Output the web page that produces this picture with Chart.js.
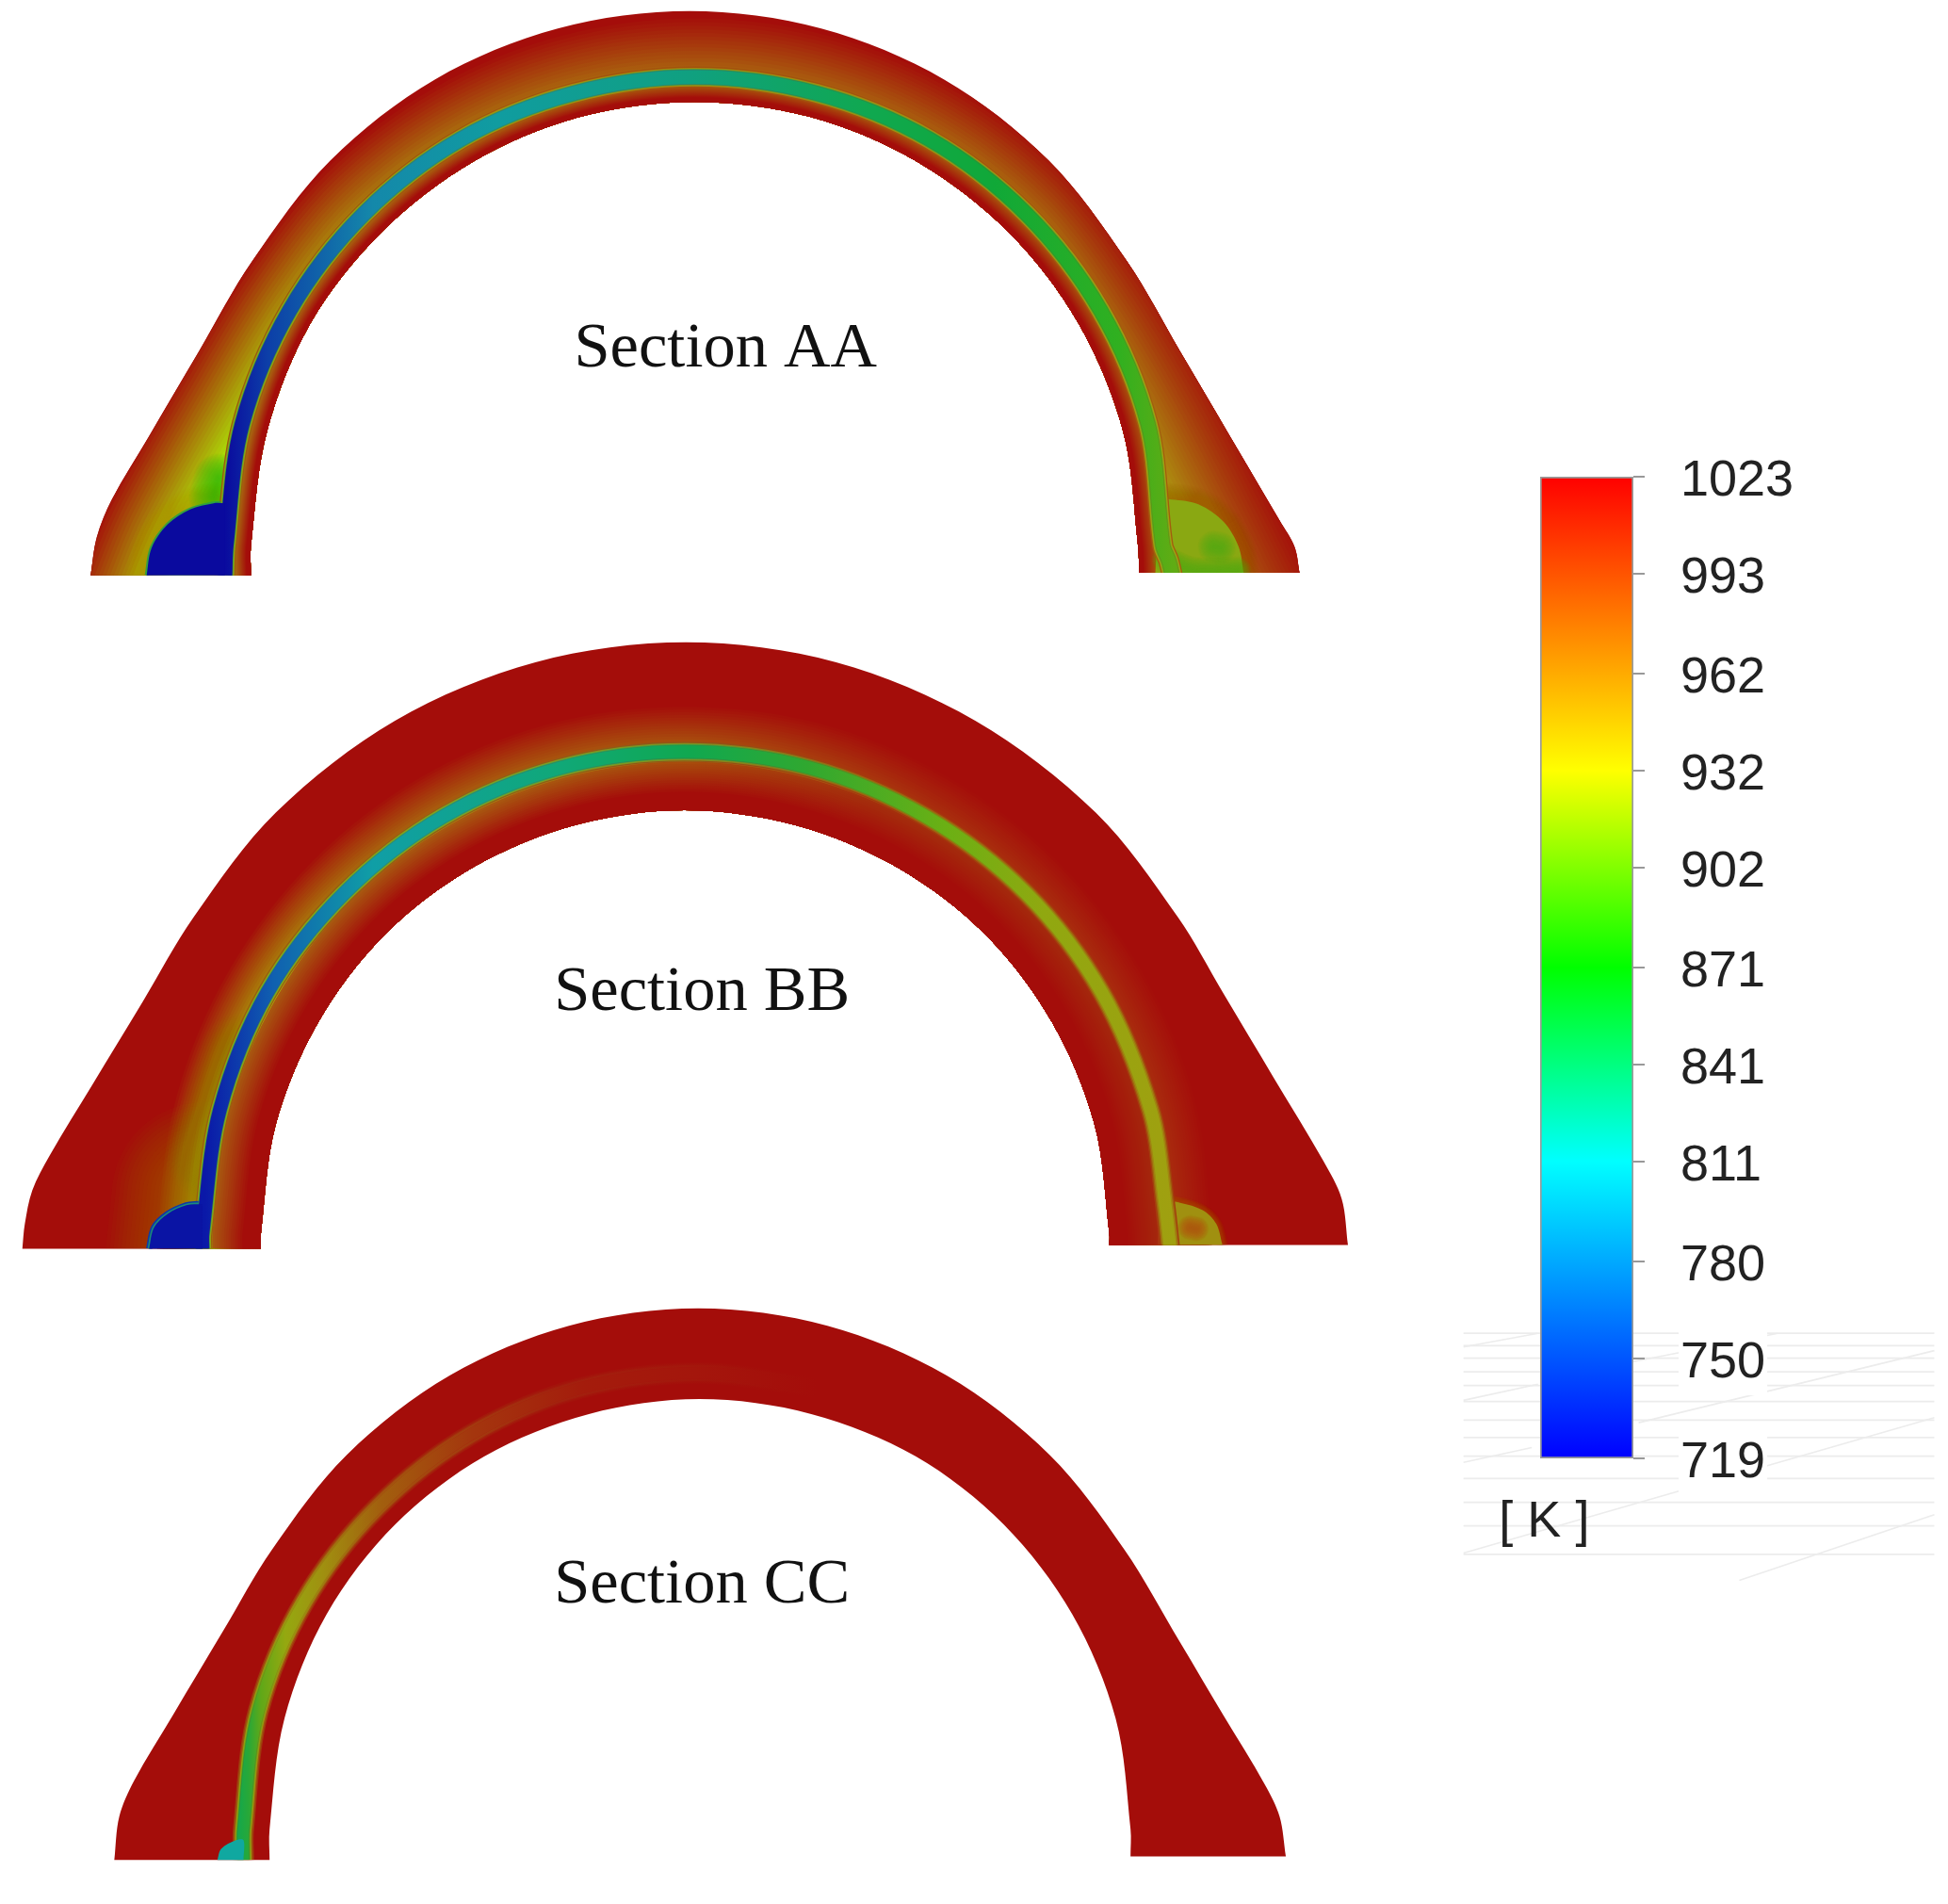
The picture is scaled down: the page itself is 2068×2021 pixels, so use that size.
<!DOCTYPE html>
<html>
<head>
<meta charset="utf-8">
<style>
  html, body { margin: 0; padding: 0; background: #fff; }
  #wrap { position: relative; width: 2068px; height: 2021px; overflow: hidden; }
  canvas { position: absolute; display: block; }
</style>
<script src="https://cdn.jsdelivr.net/npm/chart.js@4"></script>
</head>
<body>
<div id="wrap">
  <canvas id="sections" width="2068" height="2021" style="left:0;top:0"></canvas>
  <canvas id="colorbar" width="426" height="1122" style="left:1633px;top:466px"></canvas>
</div>
<script>
// colour scale
const tickValues = [1023, 993, 962, 932, 902, 871, 841, 811, 780, 750, 719];
const barRange = [719, 1023];
const barStops = [[1023, '#ff0000'], [932, '#ffff00'], [871, '#00ff00'], [811, '#00ffff'], [719, '#0000ff']];

const titles = ['Section AA', 'Section BB', 'Section CC'];
const titleX = [584, 565, 565];
const titleY = [281, 799, 1276];

// outlines (x right, y down, 1568 wide)
const aaOuter = [[73,463],[73,463],[78,432],[90,402],[120,351],[160,283],[203,210],[266,129],[350,64],[449,23],[555,9],[661,23],[760,64],[844,129],[907,210],[950,283],[990,351],[1030,419],[1042,440],[1046,461],[1046,461]];
const aaInner = [[917,461],[917,461],[916,439],[904,347],[868,260],[812,187],[738,130],[652,94],[559,82],[467,94],[381,130],[307,187],[250,260],[215,347],[202,439],[202,463],[202,463]];
const aaChannel = [[181,463],[182,439],[195,341],[233,250],[293,172],[371,112],[462,75],[559,62],[657,75],[748,112],[826,172],[886,250],[924,341],[936,439],[941,452],[946,475]];
const aaGlow = [[130,500],[155,439],[208,345],[257,264],[313,192],[385,137],[469,102],[559,90],[650,102],[734,137],[806,192],[862,264],[911,345],[960,439],[990,500]];
const aaBlobL = [[118,463],[118,463],[122,441],[135,422],[153,410],[172,405],[181,405],[181,405],[181,463],[181,463]];
const aaBlobEdgeL = [[118,463],[122,441],[135,422],[153,410],[172,405],[178,405]];
const aaCorner = [[172,400],[176,385]];
const aaBlobR = [[930,461],[930,461],[934,403],[943,402],[965,406],[985,420],[997,440],[1001,461],[1001,461]];
const aaSpot = [[977,440],[982,441]];
const aaSwirl = [[938,450],[960,459],[996,459]];

const bbOuter = [[18,1005],[18,1005],[20,985],[26,958],[40,930],[75,872],[115,806],[156,738],[222,654],[318,580],[431,533],[552,517],[673,533],[785,580],[882,654],[948,738],[985,800],[1025,867],[1065,934],[1080,965],[1085,1002],[1085,1002]];
const bbInner = [[893,1002],[893,1002],[893,993],[881,905],[847,823],[793,752],[722,698],[640,664],[551,652],[463,664],[381,698],[310,752],[256,823],[222,905],[210,993],[210,1005],[210,1005]];
const bbChannel = [[163,1005],[163,993],[177,893],[215,799],[277,719],[357,657],[451,618],[551,605],[652,618],[745,657],[826,719],[887,799],[926,893],[938,970],[943,1015]];
const bbGlow = [[183,1040],[183,993],[196,898],[233,809],[291,733],[367,674],[456,637],[551,625],[647,637],[735,674],[812,733],[870,809],[907,898],[919,993],[919,1040]];
const bbAuraLow = [[160,1010],[165,962]];
const bbAuraHigh = [[168,930],[195,850]];
const bbBlobL = [[120,1005],[120,1005],[124,988],[135,977],[150,970],[163,969],[163,969],[163,1005],[163,1005]];
const bbBlobEdgeL = [[120,1005],[124,988],[135,977],[150,970],[160,969]];
const bbBlobR = [[938,1002],[938,1002],[942,968],[950,968],[968,974],[979,985],[984,1002],[984,1002]];
const bbSpot = [[958,988],[963,989]];

const ccOuter = [[92,1497],[92,1497],[96,1462],[108,1433],[140,1379],[180,1312],[219,1247],[279,1171],[362,1107],[458,1067],[562,1053],[666,1067],[762,1107],[845,1171],[905,1247],[950,1322],[985,1381],[1018,1436],[1030,1462],[1035,1494],[1035,1494]];
const ccInner = [[910,1494],[910,1494],[910,1472],[898,1383],[863,1299],[808,1227],[737,1172],[653,1138],[563,1126],[474,1138],[390,1172],[318,1227],[263,1299],[229,1383],[217,1472],[217,1497],[217,1497]];
const ccChannel = [[196,1497],[196,1472],[208,1377],[245,1289],[304,1213],[380,1154],[468,1117],[563,1105],[658,1117]];
const ccBlob = [[175,1497],[175,1497],[178,1488],[190,1481],[196,1481],[196,1497],[196,1497]];

// faint lines behind the colour bar
const faintY = [1073, 1083, 1093, 1104, 1115, 1128, 1143, 1157, 1172, 1190, 1209, 1228, 1251];
const faintDiagonals = [
  [[1178,1084],[1238,1073]], [[1178,1127],[1238,1114]], [[1178,1177],[1233,1165]],
  [[1314,1096],[1431,1073]], [[1319,1145],[1557,1087]], [[1178,1250],[1557,1141]], [[1400,1272],[1557,1219]]
];

const BASE = '#a40d0a';
const SCALE = 2068 / 1568;
const paint = document.getElementById('sections').getContext('2d');

function hex2rgb(h) { return [1, 3, 5].map(i => parseInt(h.substr(i, 2), 16)); }
function mix(a, b, t) {
  const p = hex2rgb(a), q = hex2rgb(b);
  return 'rgb(' + p.map((v, i) => Math.round(v + (q[i] - v) * t)).join(',') + ')';
}
// left to right colour along a band, faded toward the base red by t
function along(stops, t) {
  const g = paint.createLinearGradient(0, 0, 2068, 0);
  stops.forEach(s => g.addColorStop(s[0] / 1568, mix(BASE, s[1], t)));
  return g;
}

const datasets = [];
function shape(points, color, clipTo) {
  datasets.push({ data: points, showLine: true, pointRadius: 0, tension: 0.33, borderWidth: 0,
    borderColor: color, backgroundColor: color, fill: 'shape', clipTo: clipTo });
  return datasets.length - 1;
}
function stroke(points, width, color, clipTo, cap) {
  datasets.push({ data: points, showLine: true, pointRadius: 0, tension: 0.33, fill: false,
    borderWidth: width * SCALE, borderColor: color, borderCapStyle: cap || 'butt', borderJoinStyle: 'round', clipTo: clipTo });
}
// soft ramp around a line: wide and faint to narrow and full
function glow(points, halfWidth, stops, clipTo) {
  for (let i = 0; i < 26; i++) {
    const t = (i + 1) / 26;
    stroke(points, 2 * halfWidth * (1 - i / 26), along(stops, t), clipTo);
  }
}
// band along the inner edge: brown where it meets the channel, base red at the edge
function innerBand(points, dist, fade, stops, clipTo) {
  for (let i = 0; i < 14; i++) {
    const t = 1 - (i + 1) / 14;
    stroke(points, 2 * (dist - fade * i / 14), along(stops, t), clipTo);
  }
}
function aura(points, width, color, clipTo) {
  for (let i = 0; i < 24; i++) stroke(points, width * (1 - i / 24), color, clipTo, 'round');
}
function channel(points, width, edge1, edge2, core, clipTo) {
  stroke(points, width + 6, along(edge1, 0.55), clipTo);
  stroke(points, width + 4, along(edge1, 1), clipTo);
  stroke(points, width + 2, along(edge2, 1), clipTo);
  stroke(points, width + 1, along(core, 0.8), clipTo);
  stroke(points, width, along(core, 1), clipTo);
}

// section AA
const aaShape = shape(aaOuter.concat(aaInner), BASE);
glow(aaGlow, 75, [[150,'#adff08'],[215,'#adff08'],[300,'#adcc10'],[420,'#adb010'],[555,'#ada012'],[700,'#ada012'],[850,'#adb010'],[950,'#ad9010'],[1050,'#ad7010']], aaShape);
aura(aaBlobEdgeL, 34, 'rgba(168,165,10,0.04)', aaShape);
aura(aaCorner, 40, 'rgba(30,170,20,0.05)', aaShape);
aura(aaBlobR, 26, 'rgba(168,110,10,0.03)', aaShape);
innerBand(aaInner, 13, 10, [[200,'#a87010'],[555,'#a85a0c'],[920,'#a8500c']], aaShape);
shape(aaBlobR, '#8aa812', aaShape);
aura(aaSpot, 26, 'rgba(70,170,20,0.05)', aaShape);
aura(aaSwirl, 22, 'rgba(90,172,18,0.06)', aaShape);
channel(aaChannel, 11,
  [[180,'#90a010'],[400,'#a09010'],[555,'#a08810'],[800,'#a09010'],[940,'#a0a010']],
  [[180,'#20a050'],[400,'#30a050'],[555,'#40a040'],[800,'#40a830'],[940,'#60a820']],
  [[181,'#0a0a9e'],[215,'#0c3ea8'],[300,'#1488aa'],[400,'#109ca0'],[555,'#10a080'],[700,'#10a850'],[800,'#10a838'],[900,'#30b020'],[945,'#60ac14']], aaShape);
stroke(aaBlobEdgeL, 3, 'rgba(40,160,70,0.9)', aaShape);
shape(aaBlobL, '#0a0a9e', aaShape);

// section BB
const bbShape = shape(bbOuter.concat(bbInner), BASE);
glow(bbGlow, 56, [[120,'#ace508'],[200,'#ace508'],[300,'#acb010'],[450,'#ac9410'],[555,'#ac8810'],[650,'#ac6810'],[750,'#ac4c10'],[850,'#ac4810'],[1000,'#ac4010']], bbShape);
aura(bbAuraLow, 150, 'rgba(168,165,10,0.032)', bbShape);
aura(bbAuraHigh, 70, 'rgba(168,140,10,0.02)', bbShape);
innerBand(bbInner, 39, 26, [[200,'#a85c10'],[400,'#a85c10'],[555,'#a8500c'],[700,'#a4300c'],[900,'#a4280c']], bbShape);
aura(bbBlobR, 10, 'rgba(168,120,10,0.025)', bbShape);
shape(bbBlobR, '#a09010', bbShape);
aura(bbSpot, 20, 'rgba(190,80,16,0.07)', bbShape);
channel(bbChannel, 10,
  [[165,'#90a010'],[400,'#80a020'],[555,'#809020'],[700,'#a0600e'],[800,'#a0600e'],[940,'#a0660e']],
  [[165,'#20a060'],[400,'#30a060'],[555,'#40a040'],[700,'#708a14'],[800,'#908a10'],[940,'#a08a10']],
  [[165,'#0a18a8'],[220,'#1060b0'],[300,'#109ea6'],[450,'#10a878'],[555,'#10a850'],[650,'#30a830'],[760,'#6ab014'],[840,'#90a810'],[945,'#a0a010']], bbShape);
stroke(bbBlobEdgeL, 5, '#0e3aa6', bbShape);
stroke(bbBlobEdgeL, 2.5, 'rgba(30,160,110,0.8)', bbShape);
shape(bbBlobL, '#0a14a4', bbShape);

// section CC
const ccShape = shape(ccOuter.concat(ccInner), BASE);
const ccEdge = [[190,'#90a010'],[230,'#a08a10'],[300,'#a2540e'],[450,'#a2200e'],[658,BASE]];
stroke(ccChannel, 17, along(ccEdge, 0.3), ccShape);
channel(ccChannel, 9,
  ccEdge,
  [[190,'#40a820'],[230,'#90a010'],[300,'#a2600e'],[450,'#a2240e'],[658,BASE]],
  [[190,'#10a850'],[200,'#28a838'],[210,'#60a818'],[230,'#95a810'],[260,'#a09010'],[305,'#a2600e'],[380,'#a4360e'],[470,'#a41c0c'],[560,'#a4160c'],[658,BASE]], ccShape);
shape(ccBlob, '#10a8a0', ccShape);

// faint background lines, broken where the bar and tick labels sit
faintY.forEach(y => {
  stroke([[1178,y],[1557,y]], 1.3, '#ececec');
  datasets[datasets.length - 1].tension = 0;
});
faintDiagonals.forEach(d => {
  stroke(d, 1.2, '#ececec');
  datasets[datasets.length - 1].tension = 0;
});

// chart.js paints the first dataset last, so flip to keep painter's order
const order = datasets.length;
datasets.forEach((d, i) => { d.order = order - i; });

const clipPlugin = {
  id: 'clipToShape',
  beforeDatasetDraw(chart, args) {
    const ds = chart.data.datasets[args.index];
    if (ds.clipTo === undefined) return;
    const c = chart.ctx;
    c.save();
    c.beginPath();
    chart.getDatasetMeta(ds.clipTo).dataset.path(c);
    c.closePath();
    c.clip();
  },
  afterDatasetDraw(chart, args) {
    if (chart.data.datasets[args.index].clipTo !== undefined) chart.ctx.restore();
  }
};

const labelPlugin = {
  id: 'sectionLabels',
  afterDraw(chart) {
    const c = chart.ctx, sx = chart.scales.x, sy = chart.scales.y;
    c.save();
    c.textAlign = 'center';
    c.textBaseline = 'middle';
    c.fillStyle = '#111';
    c.font = '68.5px "Liberation Serif"';
    titles.forEach((t, i) => c.fillText(t, sx.getPixelForValue(titleX[i]), sy.getPixelForValue(titleY[i])));
    c.fillStyle = '#222';
    c.font = '54px "Liberation Sans"';
    c.fillText('[ K ]', sx.getPixelForValue(1243), sy.getPixelForValue(1225));
    c.restore();
  }
};

new Chart(document.getElementById('sections'), {
  type: 'scatter',
  data: { datasets: datasets },
  plugins: [clipPlugin, labelPlugin],
  options: {
    responsive: false,
    animation: false,
    layout: { padding: 0 },
    plugins: { legend: { display: false }, tooltip: { enabled: false } },
    scales: {
      x: { type: 'linear', display: false, min: 0, max: 1568 },
      y: { type: 'linear', display: false, min: 0, max: 2021 / SCALE, reverse: true }
    }
  }
});

new Chart(document.getElementById('colorbar'), {
  type: 'bar',
  data: {
    labels: ['T'],
    datasets: [{
      data: [barRange],
      barPercentage: 1,
      categoryPercentage: 1,
      borderWidth: 2,
      borderSkipped: false,
      borderColor: '#9a9a9a',
      backgroundColor(ctx) {
        const a = ctx.chart.chartArea;
        if (!a) return '#f00';
        const g = ctx.chart.ctx.createLinearGradient(0, a.top, 0, a.bottom);
        barStops.forEach(s => g.addColorStop((barRange[1] - s[0]) / (barRange[1] - barRange[0]), s[1]));
        return g;
      }
    }]
  },
  options: {
    responsive: false,
    animation: false,
    layout: { padding: { left: 2, top: 40, bottom: 40 } },
    plugins: { legend: { display: false }, tooltip: { enabled: false } },
    scales: {
      x: { display: false },
      y: {
        position: 'right',
        min: barRange[0],
        max: barRange[1],
        afterBuildTicks(scale) { scale.ticks = tickValues.map(v => ({ value: v })); },
        afterFit(scale) { scale.width = 325; scale.paddingTop = 0; scale.paddingBottom = 0; },
        border: { display: false },
        grid: { drawOnChartArea: false, color: '#999', lineWidth: 2, tickLength: 12 },
        ticks: {
          autoSkip: false,
          padding: 38,
          labelOffset: 5,
          color: '#222',
          font: { family: '"Liberation Sans"', size: 54 },
          showLabelBackdrop: true,
          backdropColor: '#fff',
          backdropPadding: 2,
          callback: v => String(v)
        }
      }
    }
  }
});
</script>
</body>
</html>
